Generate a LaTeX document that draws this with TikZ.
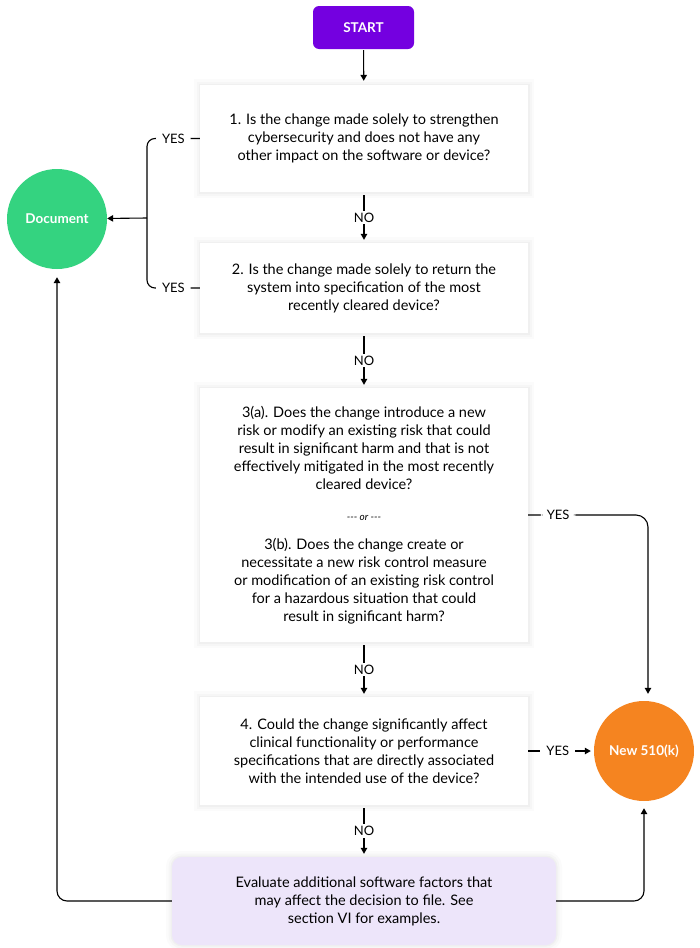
\documentclass[tikz,border=0pt]{standalone}
\usepackage{fontspec}
\setmainfont{Lato}
\usetikzlibrary{arrows.meta}
\definecolor{startpurple}{RGB}{116,0,224}
\definecolor{docgreen}{RGB}{52,211,128}
\definecolor{neworange}{RGB}{245,132,32}
\definecolor{evallilac}{RGB}{237,229,250}
\tikzset{halo/.style={preaction={draw=black, draw opacity=0.015, line width=12pt}, preaction={draw=black, draw opacity=0.02, line width=7pt}, preaction={draw=black, draw opacity=0.025, line width=3pt}}}
\tikzset{question/.style={halo, fill=white, minimum width=328pt, align=center, inner sep=0pt, font=\fontsize{14.5}{18}\selectfont}}
\tikzset{answer/.style={fill=white, inner xsep=6pt, inner ysep=2pt, font=\fontsize{13}{15}\selectfont}}
\tikzset{outcome/.style={circle, minimum size=100pt, inner sep=0pt, text=white, font=\fontsize{13.5}{15}\selectfont\bfseries}}
\tikzset{flow/.style={-{Triangle[length=6pt, width=6.5pt]}, line width=1.1pt}}

\begin{document}
\begin{tikzpicture}[x=1pt, y=-1pt]
            \useasboundingbox[fill=white] (0,0) rectangle (700,948);
            \node[fill=startpurple, rounded corners=6pt, minimum width=101pt, minimum height=43pt, text=white, font=\fontsize{13.5}{15}\selectfont\bfseries] (start) at (363.5,27.5) {START};
            \node[question, minimum height=107pt] (q1) at (364,138.5) {1. Is the change made solely to strengthen\\cybersecurity and does not have any\\other impact on the software or device?};
            \node[question, minimum height=90pt] (q2) at (364,288) {2. Is the change made solely to return the\\system into specification of the most\\recently cleared device?};
            \node[question, minimum height=254pt] (q3) at (364,515) {3(a). Does the change introduce a new\\risk or modify an existing risk that could\\result in significant harm and that is not\\effectively mitigated in the most recently\\cleared device?\\[13pt]{\fontsize{10}{12}\selectfont\itshape {-}{-}{-} or {-}{-}{-}}\\[11pt]3(b). Does the change create or\\necessitate a new risk control measure\\or modification of an existing risk control\\for a hazardous situation that could\\result in significant harm?};
            \node[question, minimum height=108pt] (q4) at (364,751) {4. Could the change significantly affect\\clinical functionality or performance\\specifications that are directly associated\\with the intended use of the device?};
            \node[question, fill=evallilac, rounded corners=10pt, minimum width=384pt, minimum height=88pt] (eval) at (364,901) {Evaluate additional software factors that\\may affect the decision to file. See\\section VI for examples.};
            \node[outcome, fill=docgreen] (doc) at (57,219) {Document};
            \node[outcome, fill=neworange] (newk) at (644,751) {New 510(k)};
            \coordinate (fork) at (147,218);
            % main line
            \draw[flow, shorten >=4pt, shorten <=1pt] (start) -- (q1);
            \draw[flow, shorten >=3pt, shorten <=3pt] (q1) -- node[answer] {NO} (q2);
            \draw[flow, shorten >=3pt, shorten <=3pt] (q2) -- node[answer] {NO} (q3);
            \draw[flow, shorten >=3pt, shorten <=3pt] (q3) -- node[answer] {NO} (q4);
            \draw[flow, shorten >=3pt, shorten <=3pt] (q4) -- node[answer] {NO} (eval);
            % yes branches
            \draw[line width=1.1pt, rounded corners=8pt] (q1.west) -- node[answer] {YES} (147,138.5) -- (147,288) -- node[answer] {YES} (q2.west);
            \draw[flow] (fork) -- (doc);
            \draw[flow, rounded corners=12pt, shorten >=7pt] (q3.east) -| node[answer, pos=0.125] {YES} ([xshift=4pt]newk.north);
            \draw[flow, shorten >=3pt] (q4.east) -- node[answer, pos=0.45] {YES} (newk);
            % back to the outcomes
            \draw[flow, rounded corners=10pt, shorten >=8pt] (eval.west) -| (doc.south);
            \draw[flow, rounded corners=10pt, shorten >=7pt] (eval.east) -| (newk.south);
        \end{tikzpicture}
\end{document}
